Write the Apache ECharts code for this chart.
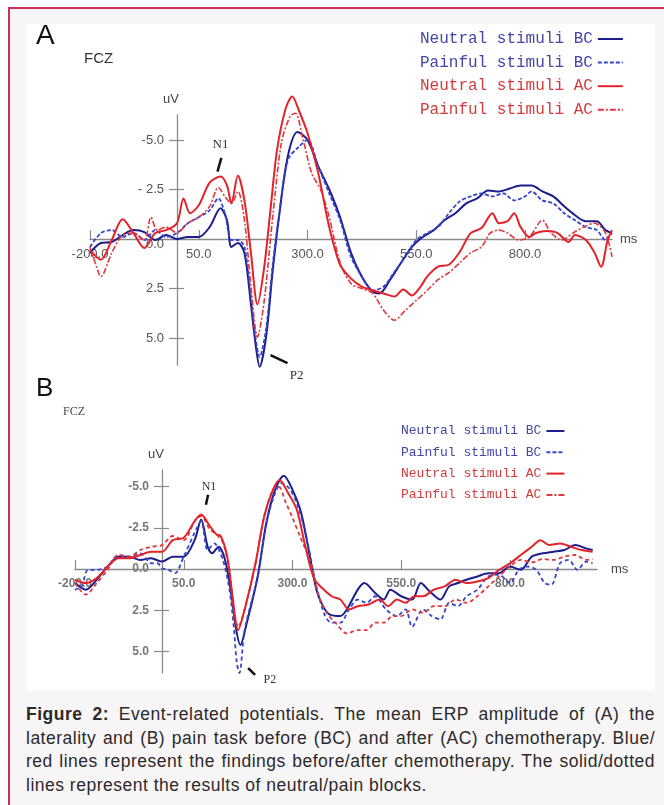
<!DOCTYPE html>
<html><head><meta charset="utf-8">
<script src="https://cdn.jsdelivr.net/npm/echarts@6/dist/echarts.min.js"></script>
<style>
html,body{margin:0;padding:0;width:664px;height:805px;overflow:hidden;background:#fff;}
#frame{position:absolute;left:8px;top:7px;width:700px;height:850px;border:2px solid #c93058;background:#f8f5f6;}
#panel{position:absolute;left:26px;top:24px;width:629px;height:667px;background:#fff;}
#chart{position:absolute;left:26px;top:24px;width:629px;height:667px;}
#cap{position:absolute;left:26px;top:703px;width:629px;font-family:"Liberation Sans",Arial,sans-serif;font-size:17.5px;line-height:23.7px;color:#2a2a2a;letter-spacing:0.5px;}
#cap div{white-space:nowrap;text-align:justify;text-align-last:justify;}
#cap div.last{text-align-last:left;}
</style></head>
<body>
<div id="frame"></div>
<div id="panel"></div>
<div id="chart"></div>
<div id="cap">
<div><b>Figure 2:</b> Event-related potentials. The mean ERP amplitude of (A) the</div>
<div>laterality and (B) pain task before (BC) and after (AC) chemotherapy. Blue/</div>
<div>red lines represent the findings before/after chemotherapy. The solid/dotted</div>
<div class="last">lines represent the results of neutral/pain blocks.</div>
</div>
<script>
// ---------- tick labels ----------
const xTickValues = [-200, 50, 300, 550, 800];
const yTickValues = [-5, -2.5, 2.5, 5];
const yLabelValues = [-5, -2.5, 0, 2.5, 5];
const yLabelsA = ['-5.0', '- 2.5', '0.0', '2.5', '5.0'];
const yLabelsB = ['-5.0', '-2.5', '0.0', '2.5', '5.0'];
const seriesNames = ['Neutral stimuli BC', 'Painful stimuli BC', 'Neutral stimuli AC', 'Painful stimuli AC'];

// ---------- Panel A (ms, uV; negative up) ----------
const aNeutralBC_ms = [-200,-175,-150,-125,-100,-75,-50,-25,0,25,50,75,100,115,125,140,155,170,180,190,205,220,235,255,277,300,325,350,375,400,425,450,465,490,515,540,565,590,615,640,665,690,715,740,765,790,815,840,865,890,915,940,965,985,1000];
const aNeutralBC_uv = [0.7,0.2,0.15,-0.2,-0.45,-0.35,0.05,-0.2,0,-0.1,-0.1,-0.6,-1.55,-0.95,0.4,0.2,0.7,3.3,5.2,6.45,4.9,1.6,-1.2,-4.2,-5.4,-5.0,-3.65,-2.5,-1.1,0.7,1.9,2.65,2.75,2.05,1.2,0.4,-0.1,-0.45,-0.95,-1.3,-1.8,-2.05,-2.45,-2.4,-2.55,-2.7,-2.7,-2.4,-2.15,-1.65,-1.2,-0.9,-0.9,-0.45,-0.3];
const aPainfulBC_ms = [-200,-175,-150,-125,-100,-75,-50,-25,0,25,50,75,95,110,125,140,155,170,180,190,205,220,235,255,280,300,325,350,375,400,425,450,475,500,525,550,575,600,625,650,675,700,725,750,775,800,815,840,865,890,915,940,965,985,1000];
const aPainfulBC_uv = [0.4,-0.3,-0.45,-0.1,-0.3,0.05,-0.45,-0.1,-0.3,-0.8,-1.1,-1.45,-2.05,-1.3,0.05,0.05,0.4,2.9,4.9,5.95,4.5,1.3,-1.3,-4.0,-4.65,-5.0,-3.65,-2.3,-0.95,0.9,1.9,2.6,2.4,1.65,0.9,0.05,-0.3,-0.6,-1.3,-1.9,-2.15,-2.3,-2.15,-2.3,-1.95,-2.15,-2.4,-1.95,-1.8,-1.3,-0.95,-0.6,-0.45,0.05,-0.3];
const aNeutralAC_ms = [-200,-175,-150,-125,-100,-75,-50,-25,0,15,30,50,75,100,115,125,140,155,170,185,200,215,230,250,265,280,300,325,350,375,400,425,450,475,500,520,540,560,575,600,625,650,675,700,725,740,760,775,790,810,825,850,875,900,915,940,960,975,990,1000];
const aNeutralAC_uv = [0.55,1.05,0.05,-1.0,-0.3,0.45,-0.3,-0.45,-0.8,-2.05,-1.3,-1.7,-2.85,-3.15,-2.7,-1.8,-3.2,-1.95,0.7,3.3,1.5,-1.5,-4.5,-6.6,-7.2,-6.5,-5.35,-3.3,-0.6,1.3,2.0,2.4,2.6,2.75,2.9,2.55,2.85,2.4,1.9,1.4,1.3,0.65,-0.3,-0.55,-1.3,-0.8,-0.9,-1.3,-0.6,-0.1,-0.3,-0.4,-0.3,0.15,-0.2,0.05,0.7,1.4,0.05,-0.45];
const aPainfulAC_ms = [-200,-185,-175,-150,-125,-100,-75,-60,-45,-25,0,25,50,75,95,110,125,140,155,170,185,200,220,240,260,272,290,310,330,350,375,400,425,450,475,500,525,550,575,600,625,650,675,700,720,740,760,785,810,840,860,885,910,935,960,985,1000];
const aPainfulAC_uv = [0.4,1.4,1.9,0.7,-0.2,-0.3,0.05,-1.1,-0.45,-0.6,-0.3,-0.8,-1.1,-1.65,-2.6,-2.15,-1.8,-2.4,-0.95,2.4,4.95,3.2,-1.1,-4.85,-6.2,-6.35,-5.0,-3.3,-2.5,-1.1,1.2,2.25,2.5,2.75,3.6,4.1,3.6,3.1,2.6,2.05,1.7,1.2,0.7,0.4,-0.3,-0.45,-0.3,0.05,-0.1,-0.95,-0.3,0.05,-0.3,-0.6,-0.8,-0.3,0.9];

// ---------- Panel B ----------
const bNeutralBC_ms = [-200,-175,-150,-125,-100,-75,-50,-25,0,25,50,75,90,105,115,130,145,160,170,180,195,220,240,260,280,300,320,340,355,370,385,410,425,450,465,490,510,525,550,575,595,615,640,660,680,700,725,750,775,800,825,850,875,900,925,950,975,990];
const bNeutralBC_uv = [0.85,1.25,0.65,-0.15,-0.75,-0.75,-0.55,-0.65,-0.45,-0.75,-0.75,-1.75,-3.0,-1.35,-0.95,-1.35,-0.55,1.65,3.6,4.6,3.25,0.45,-2.8,-4.8,-5.65,-4.8,-3.4,-0.75,1.25,2.25,2.75,2.85,2.45,1.25,0.85,1.45,1.85,1.25,1.65,1.85,0.85,1.35,1.85,1.05,0.85,0.65,0.45,0.25,0.25,-0.15,0.05,-0.75,-0.95,-1.05,-1.15,-1.45,-1.25,-1.15];
const bPainfulBC_ms = [-200,-185,-170,-150,-125,-100,-75,-50,-25,-10,0,15,30,50,75,90,105,120,140,155,165,172,178,190,220,240,260,275,295,315,335,355,375,390,410,430,450,470,490,515,540,560,575,600,620,640,660,680,700,725,750,775,800,820,840,860,880,895,915,935,955,975,990];
const bPainfulBC_uv = [1.25,1.05,0.05,0.05,-0.15,-0.85,-0.75,-0.95,-0.35,-0.35,-0.05,0.05,0.25,-0.75,-2.2,-2.9,-1.15,-1.55,-0.55,1.25,3.5,5.7,6.3,3.7,0.45,-2.8,-4.6,-5.2,-4.8,-3.6,-1.55,1.05,2.85,3.25,3.25,2.45,1.85,2.05,1.65,2.45,2.85,2.45,3.5,2.45,2.85,3.05,2.05,2.25,1.65,1.25,0.45,0.35,0.85,0.05,-0.15,0.05,0.85,0.95,-0.35,-0.55,0.05,-0.45,-0.35];
const bNeutralAC_ms = [-200,-175,-150,-125,-100,-75,-50,-25,0,25,50,75,90,110,125,135,150,162,175,190,215,235,255,270,290,310,330,350,370,390,410,430,450,475,500,520,540,560,580,600,625,650,675,700,725,750,775,800,825,850,870,890,915,940,965,990];
const bNeutralAC_uv = [0.65,0.85,0.55,-0.15,-0.65,-0.65,-0.85,-1.05,-1.05,-1.75,-1.9,-2.9,-3.3,-2.6,-2.1,-2.0,-0.75,1.65,3.7,2.45,-0.35,-3.2,-4.8,-5.4,-4.6,-3.6,-1.3,0.6,1.2,1.65,1.85,2.45,2.25,2.15,1.85,2.25,1.85,2.05,1.65,1.65,1.25,1.05,0.65,0.85,0.75,0.55,0.05,-0.35,-0.85,-1.35,-1.75,-1.45,-1.55,-1.35,-1.15,-1.05];
const bPainfulAC_ms = [-200,-175,-150,-125,-100,-75,-50,-25,0,25,50,75,90,110,125,140,155,165,175,190,215,235,255,268,285,300,320,340,360,380,400,425,450,470,490,510,530,550,575,600,625,650,675,700,725,750,775,800,825,850,875,900,925,950,975,990];
const bPainfulAC_uv = [0.85,1.55,0.85,0.05,-0.85,-0.75,-1.15,-1.35,-1.45,-2.0,-1.75,-2.9,-3.2,-2.4,-2.1,-1.6,0.05,2.45,3.5,2.45,-0.35,-3.2,-4.8,-5.0,-4.0,-3.1,-1.8,-0.55,1.6,2.7,3.3,3.9,3.7,3.7,3.25,3.25,2.85,2.85,2.45,2.65,2.25,2.25,1.85,2.05,1.65,1.05,0.45,-0.15,-0.55,-0.4,-0.6,-0.55,-0.75,-0.85,-0.55,-0.6];

// ---------- annotations (data units) ----------
const annotations = [
  {panel:0, text:'N1', at:[100,-4.75], from:[102,-4.1], to:[93,-3.4], size:13},
  {panel:0, text:'P2', at:[275,6.9], from:[215,5.86], to:[254,6.26], size:13},
  {panel:1, text:'N1', at:[108,-5.0], from:[106,-4.5], to:[101,-3.9], size:12},
  {panel:1, text:'P2', at:[248,6.73], from:[198,6.0], to:[214,6.42], size:12}
];

function pairs(ms, uv){ return ms.map((t,i)=>[t, uv[i]]); }

const lineStyles = [
  {color:'#1d1d8c', type:'solid', width:2},
  {color:'#3545cc', type:[4,2], width:1.8},
  {color:'#e3232a', type:'solid', width:2},
  {color:'#e2383d', type:[6,2,2,2], width:1.6}
];
const lineStylesB = [
  {color:'#1d1d8c', type:'solid', width:2},
  {color:'#3545cc', type:[4,3], width:1.8},
  {color:'#e3232a', type:'solid', width:2},
  {color:'#e2383d', type:[4,3], width:1.8}
];
const legendColors = ['#4545a8','#4545a8','#d23c3c','#d23c3c'];

const dataA = [pairs(aNeutralBC_ms,aNeutralBC_uv), pairs(aPainfulBC_ms,aPainfulBC_uv), pairs(aNeutralAC_ms,aNeutralAC_uv), pairs(aPainfulAC_ms,aPainfulAC_uv)];
const dataB = [pairs(bNeutralBC_ms,bNeutralBC_uv), pairs(bPainfulBC_ms,bPainfulBC_uv), pairs(bNeutralAC_ms,bNeutralAC_uv), pairs(bPainfulAC_ms,bPainfulAC_uv)];

const axisColor = '#8a8a8a';
const xRange = [-200, 1000];
const panels = [
  {grid:{left:64, top:91, width:522, height:250}, yRange:[-6.26, 6.36], labels:yLabelsA,
   labelStyle:{color:'#555', fontSize:13, fontFamily:'Liberation Sans'}, rich:{z:{padding:[10,0,0,0]}}, msGap:8, data:dataA, styles:lineStyles},
  {grid:{left:49, top:446, width:522, height:203}, yRange:[-6.0, 6.3], labels:yLabelsB,
   labelStyle:{color:'#777', fontSize:12, fontWeight:'bold', fontFamily:'Liberation Sans'}, rich:null, msGap:14, data:dataB, styles:lineStylesB}
];

const grids = [], xAxes = [], yAxes = [], series = [];
const dataGridIndex = [];
panels.forEach((P, pi)=>{
  const g = P.grid;
  const zeroX = g.left + (0 - xRange[0])/(xRange[1]-xRange[0]) * g.width;
  const zeroY = g.top + (0 - P.yRange[0])/(P.yRange[1]-P.yRange[0]) * g.height;
  // data grid
  const gData = grids.length; dataGridIndex.push(gData);
  grids.push({left:g.left, top:g.top, width:g.width, height:g.height});
  const xData = xAxes.length;
  xAxes.push({type:'value', gridIndex:gData, min:xRange[0], max:xRange[1], show:false});
  const yData = yAxes.length;
  yAxes.push({type:'value', gridIndex:gData, min:P.yRange[0], max:P.yRange[1], inverse:true, show:false});
  // vertical axis grid (its left edge sits at 0 ms)
  const gY = grids.length;
  grids.push({left:zeroX, top:g.top, width:10, height:g.height});
  xAxes.push({type:'value', gridIndex:gY, min:0, max:1, show:false});
  yAxes.push({
    type:'value', gridIndex:gY, min:P.yRange[0], max:P.yRange[1], inverse:true, position:'left',
    axisLine:{show:true, onZero:false, lineStyle:{color:axisColor, width:1.3}},
    axisTick:{show:true, inside:false, length:8, customValues:yTickValues, lineStyle:{color:axisColor, width:1.2}},
    axisLabel:Object.assign({customValues:yLabelValues, margin:13,
      formatter:function(v){ const i = yLabelValues.indexOf(v); const s = P.labels[i]; return (v===0 && P.rich) ? '{z|'+s+'}' : s; },
      rich: P.rich || {}}, P.labelStyle),
    splitLine:{show:false},
    name:'uV', nameLocation:'start', nameGap:9,
    nameTextStyle:{color:'#444', fontSize:13, fontFamily:'Liberation Sans', padding:[0,12,0,0]}
  });
  yAxes.push({
    type:'value', gridIndex:gY, min:P.yRange[0], max:P.yRange[1], inverse:true, position:'left',
    axisLine:{show:false, onZero:false},
    axisTick:{show:true, inside:true, length:7, customValues:yTickValues, lineStyle:{color:axisColor, width:1.2}},
    axisLabel:{show:false}, splitLine:{show:false}
  });
  // horizontal axis grid (its bottom edge sits at 0 uV)
  const gX = grids.length;
  grids.push({left:g.left, top:g.top, width:g.width, height:zeroY - g.top});
  xAxes.push({
    type:'value', gridIndex:gX, min:xRange[0], max:xRange[1], position:'bottom',
    axisLine:{show:true, onZero:false, lineStyle:{color:axisColor, width:1.3}},
    axisTick:{show:true, inside:true, length:9, customValues:xTickValues, lineStyle:{color:axisColor, width:1.2}},
    axisLabel:Object.assign({customValues:xTickValues, formatter:v=>v.toFixed(1), margin:9}, P.labelStyle),
    splitLine:{show:false},
    name:'ms', nameLocation:'end', nameGap:P.msGap,
    nameTextStyle:{color:'#444', fontSize:13, fontFamily:'Liberation Sans'}
  });
  yAxes.push({type:'value', gridIndex:gX, min:0, max:1, show:false});
  // series
  [0,1,3,2].forEach(i=>{
    series.push({name:seriesNames[i], type:'line', xAxisIndex:xData, yAxisIndex:yData, data:P.data[i],
      showSymbol:false, symbol:'none', smooth:0.3, clip:false,
      lineStyle:P.styles[i], itemStyle:{color:P.styles[i].color}, z:3});
  });
});

const option = {
  animation:false,
  backgroundColor:'transparent',
  grid:grids, xAxis:xAxes, yAxis:yAxes,
  legend:[
    {orient:'vertical', left:389, top:2, align:'right', itemWidth:25, itemHeight:10, itemGap:7.6,
     itemStyle:{opacity:0},
     data:seriesNames.map((n,i)=>({name:n, textStyle:{color:legendColors[i]}})),
     textStyle:{fontFamily:'Liberation Mono', fontSize:16, lineHeight:16}, selectedMode:false},
    {orient:'vertical', left:370, top:395, align:'right', itemWidth:18, itemHeight:8, itemGap:7.3,
     itemStyle:{opacity:0},
     data:seriesNames.map((n,i)=>({name:n, textStyle:{color:legendColors[i]}})),
     textStyle:{fontFamily:'Liberation Mono', fontSize:13, lineHeight:14}, selectedMode:false}
  ],
  series:series
};

const chart = echarts.init(document.getElementById('chart'), null, {renderer:'canvas'});
chart.setOption(option);

const graphics = [
  {type:'text', left:10, top:-2, style:{text:'A', font:'28px "Liberation Sans"', fill:'#111'}},
  {type:'text', left:58, top:27, style:{text:'FCZ', font:'15px "Liberation Sans"', fill:'#333'}},
  {type:'text', left:10, top:352, style:{text:'B', font:'26px "Liberation Sans"', fill:'#111'}},
  {type:'text', left:37, top:382, style:{text:'FCZ', font:'12px "Liberation Serif"', fill:'#444'}}
];
annotations.forEach(a=>{
  const gi = dataGridIndex[a.panel];
  const p = chart.convertToPixel({gridIndex:gi}, a.at);
  const f = chart.convertToPixel({gridIndex:gi}, a.from);
  const t = chart.convertToPixel({gridIndex:gi}, a.to);
  graphics.push({type:'text', x:p[0], y:p[1], style:{text:a.text, font:a.size+'px "Liberation Serif"', fill:'#333', align:'center', verticalAlign:'middle'}, z:10});
  graphics.push({type:'line', shape:{x1:f[0], y1:f[1], x2:t[0], y2:t[1]}, style:{stroke:'#111', lineWidth:2.5}, z:10});
});
chart.setOption({graphic:graphics});
</script>
</body></html>
